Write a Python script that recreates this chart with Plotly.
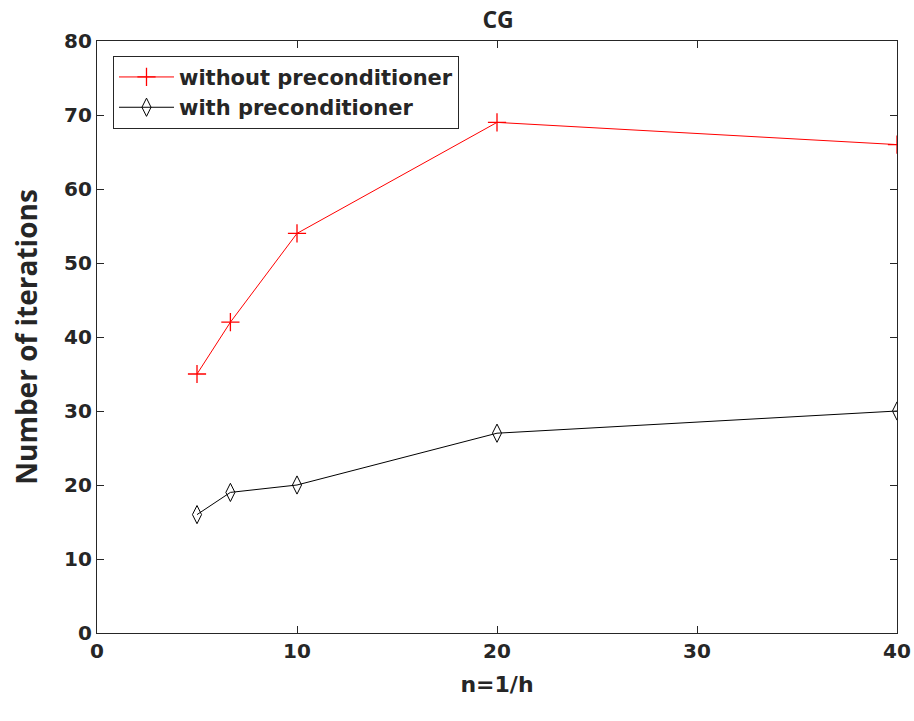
import plotly.graph_objects as go

n_values = [5, 6.67, 10, 20, 40]
without_precond = [35, 42, 54, 69, 66]
with_precond = [16, 19, 20, 27, 30]
x_ticks = [0, 10, 20, 30, 40]
y_ticks = [0, 10, 20, 30, 40, 50, 60, 70, 80]

fig = go.Figure()
fig.add_trace(go.Scatter(
    x=n_values, y=without_precond, mode="lines+markers",
    name="without preconditioner",
    line=dict(color="#ff0000", width=1),
    marker=dict(symbol="cross-thin", size=13, line=dict(color="#ff0000", width=1.3)),
))
fig.add_trace(go.Scatter(
    x=n_values, y=with_precond, mode="lines+markers",
    name="with preconditioner",
    line=dict(color="#000000", width=1),
    marker=dict(symbol="diamond-tall-open", size=13, color="#000000",
                line=dict(color="#000000", width=1)),
))

font_family = "DejaVu Sans"
fig.update_layout(
    width=914, height=721,
    margin=dict(l=97, r=17, t=41, b=88, autoexpand=False),
    paper_bgcolor="white", plot_bgcolor="white",
    title=dict(text="CG", x=0.545, xanchor="center", y=0.984, yanchor="top",
               font=dict(family="Open Sans", size=23, color="#262626", weight="bold")),
    font=dict(family=font_family, color="#262626"),
    showlegend=True,
    legend=dict(x=0.02, y=0.975, xanchor="left", yanchor="top",
                bordercolor="#262626", borderwidth=1, bgcolor="white",
                font=dict(family=font_family, size=21, color="#262626", weight="bold"),
                tracegroupgap=0, itemwidth=55),
    xaxis=dict(range=[0, 40], tickvals=x_ticks, ticks="inside", ticklen=7,
               automargin=False,
               showgrid=False, zeroline=False, showline=True, mirror="ticks",
               linecolor="#262626", linewidth=1.3, tickcolor="#262626",
               tickfont=dict(family=font_family, size=20, color="#262626", weight="bold"),
               title=dict(text="n=1/h", standoff=14,
                          font=dict(family=font_family, size=22, color="#262626", weight="bold"))),
    yaxis=dict(range=[0, 80], tickvals=y_ticks, ticks="inside", ticklen=7,
               automargin=False,
               showgrid=False, zeroline=False, showline=True, mirror="ticks",
               linecolor="#262626", linewidth=1.3, tickcolor="#262626",
               tickfont=dict(family=font_family, size=20, color="#262626", weight="bold"),
               title=dict(text="Number of iterations", standoff=18,
                          font=dict(family="Open Sans", size=28, color="#262626", weight="bold"))),
)

fig.write_html("out.html")
